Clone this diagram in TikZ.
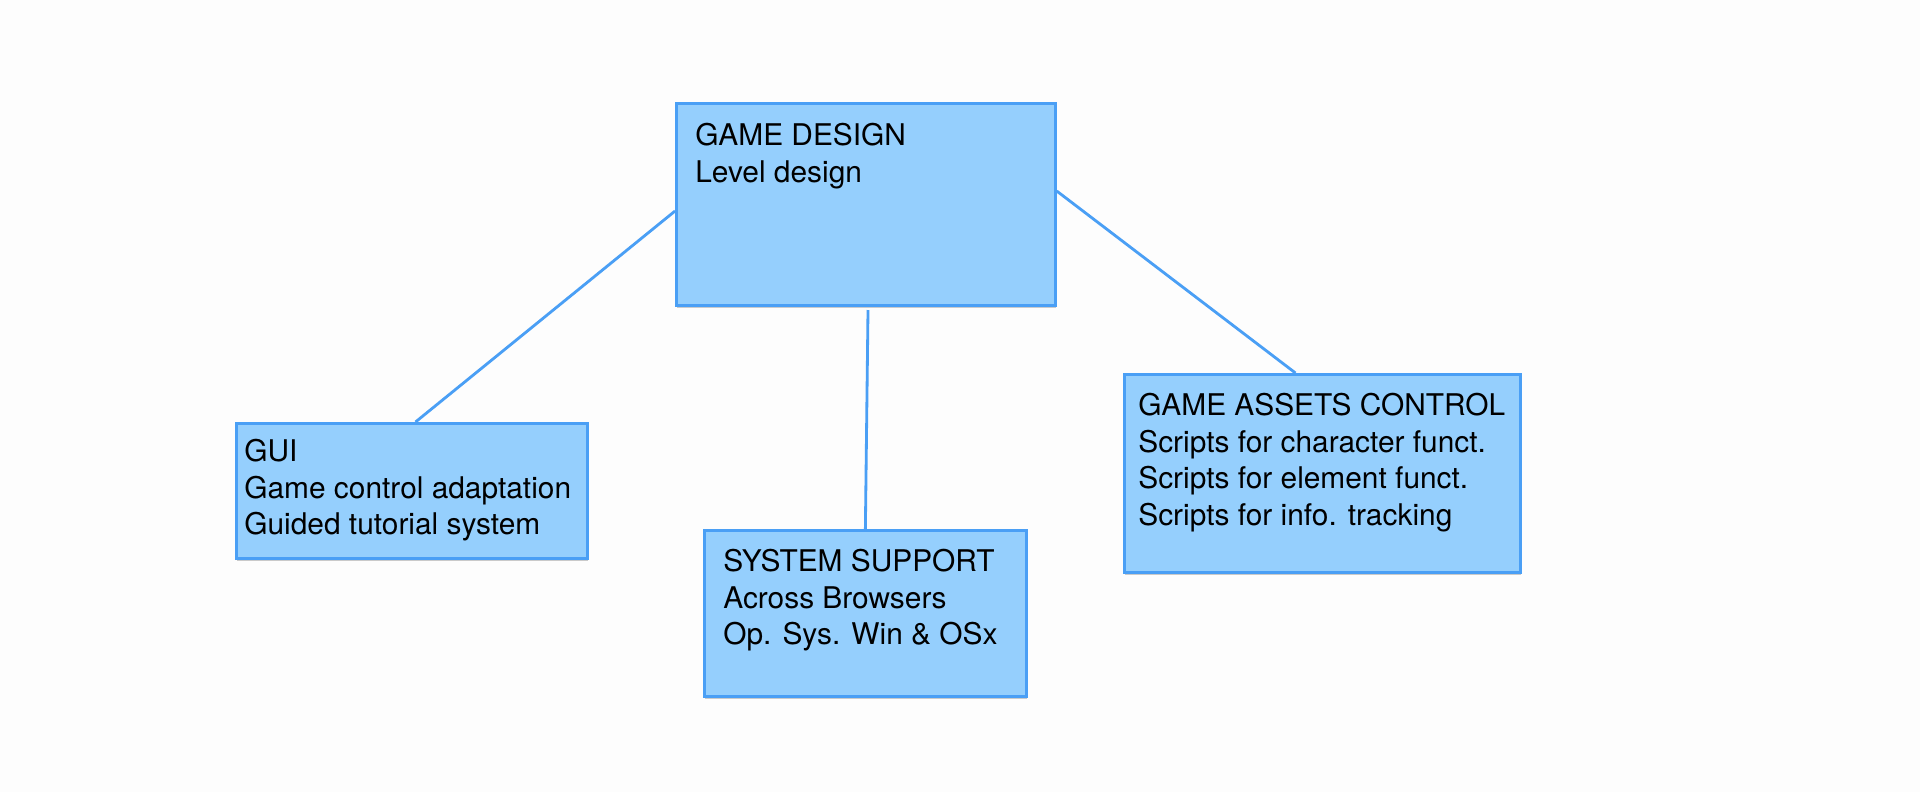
\documentclass[tikz,border=0pt]{standalone}
\usepackage{fontspec}
\setmainfont{TeX Gyre Heros}
\usetikzlibrary{shadows}
\definecolor{boxfill}{HTML}{95CFFD}
\definecolor{boxline}{HTML}{4A9FF5}
\definecolor{paper}{HTML}{FDFDFD}

\begin{document}
\begin{tikzpicture}[x=0.02cm, y=-0.02cm,
  bloco/.style={rectangle, draw=boxline, line width=1.6pt, fill=boxfill,
    anchor=north west, inner sep=0pt,
    drop shadow={shadow xshift=0.3pt, shadow yshift=-1.3pt, fill=black!40, opacity=0.5}},
  texto/.style={anchor=north west, align=left, inner sep=0pt,
    font=\fontsize{17}{21}\selectfont},
  ligacao/.style={draw=boxline, line width=1.6pt}]

  % fundo
  \fill[paper] (0,0) rectangle (1920,792);

  % Caixa principal
  \node[bloco, minimum width=7.58cm, minimum height=4.04cm,
    label={[texto, xshift=0.4cm, yshift=-0.41cm]north west:{GAME DESIGN\\Level design}}]
    (gd) at (675,102) {};

  % Caixas de baixo
  \node[bloco, minimum width=7.02cm, minimum height=2.7cm,
    label={[texto, xshift=0.18cm, yshift=-0.33cm]north west:{GUI\\Game control adaptation\\Guided tutorial system}}]
    (gui) at (235,422) {};
  \node[bloco, minimum width=6.44cm, minimum height=3.32cm,
    label={[texto, xshift=0.4cm, yshift=-0.39cm]north west:{SYSTEM SUPPORT\\Across Browsers\\Op. Sys. Win \& OSx}}]
    (sys) at (703,529) {};
  \node[bloco, minimum width=7.92cm, minimum height=3.96cm,
    label={[texto, xshift=0.3cm, yshift=-0.39cm]north west:{GAME ASSETS CONTROL\\Scripts for character funct.\\Scripts for element funct.\\Scripts for info. tracking}}]
    (assets) at (1123,373) {};

  % Linhas
  \coordinate (gdbaixo) at (868,310);
  \draw[ligacao] (gd.182) -- (gui.87);
  \draw[ligacao] (gdbaixo) -- (sys.north);
  \draw[ligacao] (gd.4) -- (assets.105);
\end{tikzpicture}
\end{document}
